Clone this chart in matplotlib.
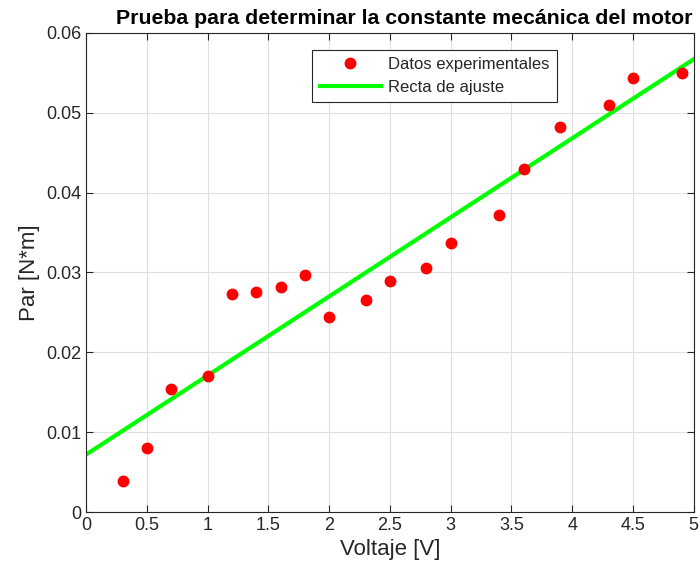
import matplotlib
matplotlib.use("Agg")
import matplotlib.pyplot as plt
import numpy as np

plt.rcParams['font.family'] = ['Liberation Sans', 'DejaVu Sans']

voltaje = [0.3, 0.5, 0.7, 1.0, 1.2, 1.4, 1.6, 1.8, 2.0, 2.3, 2.5, 2.8, 3.0, 3.4, 3.6, 3.9, 4.3, 4.5, 4.9]
par = [0.0039, 0.0080, 0.0154, 0.0170, 0.0273, 0.0276, 0.0282, 0.0297, 0.0244, 0.0266,
       0.0289, 0.0305, 0.0337, 0.0372, 0.0430, 0.0482, 0.0510, 0.0544, 0.0550]
ajuste_x = [0, 5]
ajuste_y = [0.0072, 0.0567]

xticks = [0, 0.5, 1, 1.5, 2, 2.5, 3, 3.5, 4, 4.5, 5]
xticklabels = ['0', '0.5', '1', '1.5', '2', '2.5', '3', '3.5', '4', '4.5', '5']
yticks = [0, 0.01, 0.02, 0.03, 0.04, 0.05, 0.06]
yticklabels = ['0', '0.01', '0.02', '0.03', '0.04', '0.05', '0.06']

fig = plt.figure(figsize=(7, 5.76), dpi=100)
ax = fig.add_axes([0.123, 0.111, 0.868, 0.832])

ax.plot(voltaje, par, 'o', color='#ff0000', markersize=7.5, label='Datos experimentales', zorder=3)
ax.plot(ajuste_x, ajuste_y, '-', color='#00ff00', linewidth=3, label='Recta de ajuste', zorder=2)

ax.set_xlim(0, 5)
ax.set_ylim(0, 0.06)
ax.set_xticks(xticks)
ax.set_xticklabels(xticklabels)
ax.set_yticks(yticks)
ax.set_yticklabels(yticklabels)
ax.grid(True, color='#e0e0e0', linewidth=0.8)
ax.set_axisbelow(True)
ax.tick_params(direction='in', top=True, right=True, labelsize=13, colors='#262626', length=5)
for s in ax.spines.values():
    s.set_color('#262626')
    s.set_linewidth(0.8)

ax.set_xlabel('Voltaje [V]', fontsize=16, color='#262626')
ax.set_ylabel('Par [N*m]', fontsize=16, color='#262626')
ax.set_title('Prueba para determinar la constante mecánica del motor', fontsize=15.3,
             fontweight='bold', pad=6, x=0.523)

leg = ax.legend(loc='upper left', bbox_to_anchor=(0.372, 0.965), fontsize=12, fancybox=False,
                edgecolor='#262626', framealpha=1, handlelength=3.7, borderpad=0.45, labelspacing=0.45,
                handletextpad=0.4, borderaxespad=0)
leg.get_frame().set_linewidth(0.8)
for t in leg.get_texts():
    t.set_color('#262626')

fig.savefig('out.png', dpi=100)
